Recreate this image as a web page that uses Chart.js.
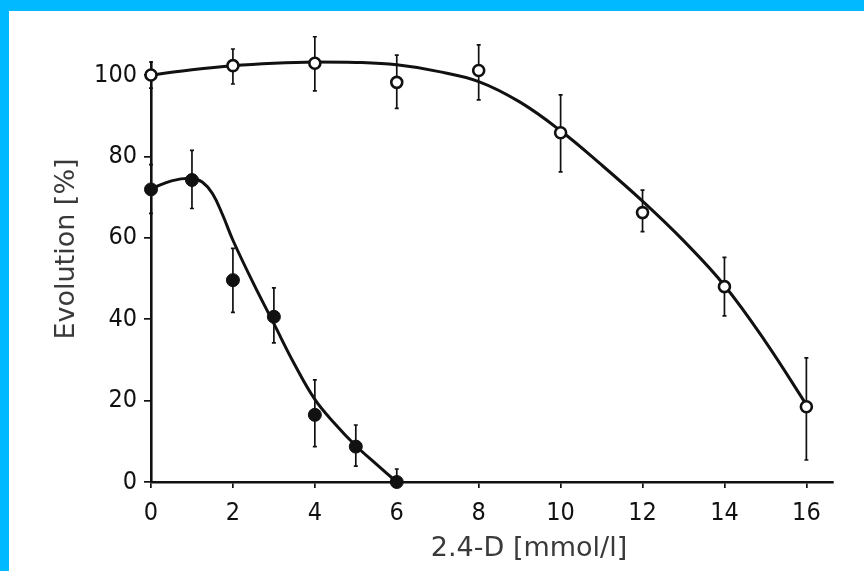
<!DOCTYPE html>
<html>
<head>
<meta charset="utf-8">
<script src="https://cdn.jsdelivr.net/npm/chart.js@4/dist/chart.umd.min.js"></script>
<style>
  html, body { margin: 0; padding: 0; background: #00b9ff; }
  #frame { position: absolute; left: 9px; top: 11px; width: 855px; height: 560px; background: #fff; }
  canvas { display: block; }
</style>
</head>
<body>
<div id="frame"><canvas id="chart" width="855" height="560"></canvas></div>
<script>
"use strict";

// measured points (open circles = control, filled circles = treated)
const openX = [0, 2, 4, 6, 8, 10, 12, 14, 16];
const openY = [100, 102.3, 102.9, 98.2, 101.1, 85.8, 66.2, 48, 18.5];
const openLow = [96.8, 97.8, 96.1, 91.8, 93.9, 76.2, 61.5, 40.8, 5.4];
const openHigh = [103.2, 106.4, 109.4, 104.9, 107.4, 95.1, 71.7, 55.2, 30.5];

const filledX = [0, 1, 2, 3, 4, 5, 6];
const filledY = [71.9, 74.2, 49.6, 40.6, 16.5, 8.7, 0];
const filledLow = [66, 67.2, 41.7, 34.2, 8.7, 3.9, 0];
const filledHigh = [78, 81.5, 57.4, 47.7, 25.1, 14, 3.2];

// fitted curves
const openCurveX = [0, 1, 2, 3, 4, 5, 6, 7, 8, 9, 10, 11, 12, 13, 14, 15, 16];
const openCurveY = [100, 101.3, 102.3, 102.9, 103.2, 103.1, 102.5, 100.9, 98.4, 93.4, 86.3, 77.9, 69, 59.3, 48.3, 34.5, 19];
const filledCurveX = [0, 0.5, 1, 1.25, 1.5, 1.75, 2, 2.5, 3, 3.5, 4, 4.5, 5, 5.5, 6];
const filledCurveY = [72, 74, 74.6, 73.7, 70.9, 65.6, 59.4, 48.8, 38.9, 29, 20.3, 14.2, 8.9, 4.4, 0];

const xTicks = [0, 2, 4, 6, 8, 10, 12, 14, 16];
const yTicks = [0, 20, 40, 60, 80, 100];

const xTitle = "2.4-D [mmol/l]";
const yTitle = "Evolution [%]";

const pts = (xs, ys) => xs.map((v, i) => ({ x: v, y: ys[i] }));

const errorBars = {
    id: "errorBars",
    beforeDatasetsDraw(chart) {
        const { ctx, scales: { x, y } } = chart;
        ctx.save();
        ctx.strokeStyle = "#111";
        ctx.lineWidth = 1.7;
        const drawSet = (xs, lows, highs) => {
            xs.forEach((v, i) => {
                const px = x.getPixelForValue(v);
                const top = y.getPixelForValue(highs[i]);
                const bottom = y.getPixelForValue(lows[i]);
                ctx.beginPath();
                ctx.moveTo(px, top); ctx.lineTo(px, bottom);
                ctx.moveTo(px - 2, top); ctx.lineTo(px + 2, top);
                ctx.moveTo(px - 2, bottom); ctx.lineTo(px + 2, bottom);
                ctx.stroke();
            });
        };
        drawSet(openX, openLow, openHigh);
        drawSet(filledX, filledLow, filledHigh);
        ctx.restore();
    }
};

const axisTitles = {
    id: "axisTitles",
    afterDraw(chart) {
        const { ctx, chartArea } = chart;
        ctx.save();
        ctx.fillStyle = "#3a3a3a";
        ctx.font = "27px 'DejaVu Sans'";
        ctx.textAlign = "center";
        ctx.textBaseline = "middle";
        ctx.fillText(xTitle, chartArea.left + 378, chartArea.bottom + 67);
        ctx.translate(chartArea.left - 84, chartArea.top + 187);
        ctx.rotate(-Math.PI / 2);
        ctx.fillText(yTitle, 0, 0);
        ctx.restore();
    }
};

const tickFont = { family: "'Liberation Sans Narrow', 'DejaVu Sans Condensed', sans-serif", size: 25 };

new Chart(document.getElementById("chart"), {
    type: "scatter",
    data: {
        datasets: [
            {
                label: "control curve", data: pts(openCurveX, openCurveY), showLine: true,
                borderColor: "#111", borderWidth: 3, pointRadius: 0, tension: 0.4,
                order: 3, clip: false
            },
            {
                label: "treated curve", data: pts(filledCurveX, filledCurveY), showLine: true,
                borderColor: "#111", borderWidth: 3, pointRadius: 0, tension: 0.4,
                order: 3, clip: false
            },
            {
                label: "control", data: pts(openX, openY),
                pointRadius: 5.5, pointBorderWidth: 2.6, pointBackgroundColor: "#fff", pointBorderColor: "#111",
                order: 1, clip: false
            },
            {
                label: "treated", data: pts(filledX, filledY),
                pointRadius: 6.5, pointBorderWidth: 1, pointBackgroundColor: "#111", pointBorderColor: "#111",
                order: 1, clip: false
            }
        ]
    },
    options: {
        responsive: false,
        animation: false,
        layout: { padding: { top: 51, right: 31, left: 0, bottom: 0 } },
        plugins: { legend: { display: false }, tooltip: { enabled: false } },
        scales: {
            x: {
                type: "linear", min: 0, max: 16.65,
                afterBuildTicks: scale => { scale.ticks = xTicks.map(v => ({ value: v })); },
                afterFit: scale => { scale.height = 89; },
                grid: { drawOnChartArea: false, drawTicks: true, tickLength: 6, color: "#111", lineWidth: 1.7 },
                border: { display: true, color: "#111", width: 2.6 },
                ticks: { font: tickFont, color: "#111", padding: 10, maxRotation: 0 }
            },
            y: {
                type: "linear", min: 0, max: 103.2,
                afterBuildTicks: scale => { scale.ticks = yTicks.map(v => ({ value: v })); },
                afterFit: scale => { scale.width = 142; },
                grid: { drawOnChartArea: false, drawTicks: true, tickLength: 7, color: "#111", lineWidth: 1.7 },
                border: { display: true, color: "#111", width: 2.6 },
                ticks: { font: tickFont, color: "#111", padding: 7 }
            }
        }
    },
    plugins: [errorBars, axisTitles]
});
</script>
</body>
</html>
